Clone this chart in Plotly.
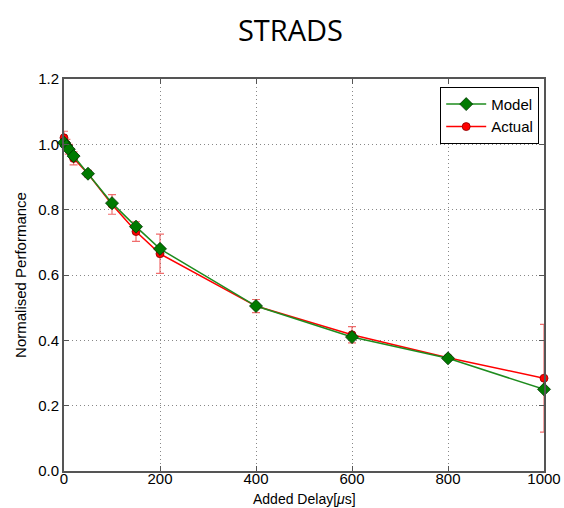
import plotly.graph_objects as go

delay = [0, 5, 10, 20, 50, 100, 150, 200, 400, 600, 800, 1000]
actual = [1.02, 1.00, 0.985, 0.957, 0.91, 0.816, 0.733, 0.665, 0.505, 0.417, 0.347, 0.284]
actual_err = [0.02, 0.015, 0.015, 0.02, 0.01, 0.03, 0.03, 0.06, 0.02, 0.025, 0.005, 0.165]
model = [1.005, 0.995, 0.985, 0.964, 0.91, 0.82, 0.748, 0.68, 0.505, 0.41, 0.345, 0.25]

x_ticks = [0, 200, 400, 600, 800, 1000]
y_ticks = [0.0, 0.2, 0.4, 0.6, 0.8, 1.0, 1.2]

fig = go.Figure()
fig.add_trace(go.Scatter(
    x=delay, y=actual, name="Actual", mode="lines+markers",
    line=dict(color="#ff0000", width=1.5),
    marker=dict(symbol="circle", size=8, color="#ff0000", line=dict(color="#8b0000", width=0.8)),
    error_y=dict(type="data", array=actual_err, color="rgba(235,60,60,0.75)", thickness=1.2, width=4),
    legendrank=2, cliponaxis=False,
))
fig.add_trace(go.Scatter(
    x=delay, y=model, name="Model", mode="lines+markers",
    line=dict(color="#1e8c1e", width=1.5),
    marker=dict(symbol="diamond", size=10, color="#007a00", line=dict(color="#003300", width=0.8)),
    legendrank=1, cliponaxis=False,
))

axis_common = dict(
    showline=True, linecolor="#555555", linewidth=2, mirror="ticks",
    ticks="inside", ticklen=5, tickcolor="#555555",
    showgrid=True, gridcolor="#888888", griddash="1px,3px", gridwidth=1,
    zeroline=False, automargin=False,
    tickfont=dict(family="Liberation Sans, Arial", size=15, color="#000000"),
)
fig.update_xaxes(range=[0, 1000], tickvals=x_ticks, ticktext=[str(v) for v in x_ticks],
                 ticklabelstandoff=-7, **axis_common)
fig.update_yaxes(range=[0, 1.2], tickvals=y_ticks, ticktext=[f"{v:.1f}" for v in y_ticks],
                 title=dict(text="Normalised Performance", font=dict(family="Liberation Sans, Arial", size=15, color="#000"), standoff=8),
                 **axis_common)

fig.add_annotation(
    text="Added Delay[<i>μ</i>s]", xref="paper", yref="paper", x=0.5, y=-0.072,
    xanchor="center", yanchor="middle", showarrow=False,
    font=dict(family="Liberation Sans, Arial", size=14, color="#000"),
)

fig.update_layout(
    width=564, height=508,
    margin=dict(l=64, r=20, t=79, b=37),
    paper_bgcolor="white", plot_bgcolor="white",
    title=dict(text="STRADS", x=0.515, xanchor="center", y=0.94, yanchor="middle",
               font=dict(family="Open Sans", size=29, color="#000")),
    legend=dict(x=0.99, y=0.98, xanchor="right", yanchor="top",
                bordercolor="#000", borderwidth=1, bgcolor="white",
                font=dict(family="Liberation Sans, Arial", size=15, color="#000"),
                itemwidth=40),
    showlegend=True,
)

fig.write_html("out.html")
